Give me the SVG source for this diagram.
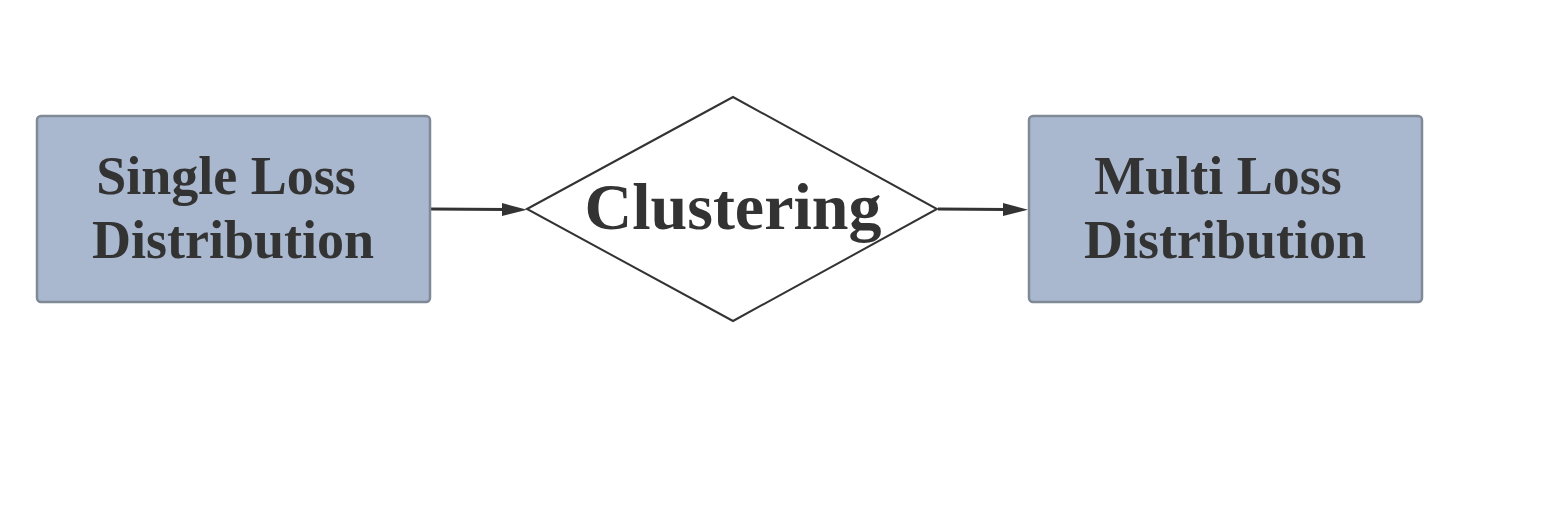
<svg xmlns="http://www.w3.org/2000/svg" width="1558" height="512" viewBox="0 0 1558 512">
<style>
.box{fill:#a9b8cf;stroke:#808a96;stroke-width:2.5}
.dia{fill:#ffffff;stroke:#333333;stroke-width:2}
.lbl{font-family:"Liberation Serif","Times New Roman",serif;font-weight:bold;fill:#333333;text-anchor:middle}
.edge{stroke:#333333;stroke-width:3;fill:none}
.head{fill:#333333}
</style>
<rect width="1558" height="512" fill="#ffffff"/>
<g id="connectors">
<path class="edge" d="M431,209 L506,209.6"/>
<path class="head" d="M502,203 L527,209.8 L502,216 Z"/>
<path class="edge" d="M938,209 L1006,209.6"/>
<path class="head" d="M1003,203 L1028,209.8 L1003,216 Z"/>
</g>
<g id="node-single">
<rect class="box" x="37" y="116" width="393" height="186" rx="4"/>
<text class="lbl" font-size="54" x="226" y="194">Single Loss</text>
<text class="lbl" font-size="54" x="233" y="258">Distribution</text>
</g>
<g id="node-clustering">
<polygon class="dia" points="527,209 733,97 937,209 733,321"/>
<text class="lbl" font-size="66" x="733" y="229">Clustering</text>
</g>
<g id="node-multi">
<rect class="box" x="1029" y="116" width="393" height="186" rx="4"/>
<text class="lbl" font-size="54" x="1218" y="194">Multi Loss</text>
<text class="lbl" font-size="54" x="1225" y="258">Distribution</text>
</g>
</svg>
